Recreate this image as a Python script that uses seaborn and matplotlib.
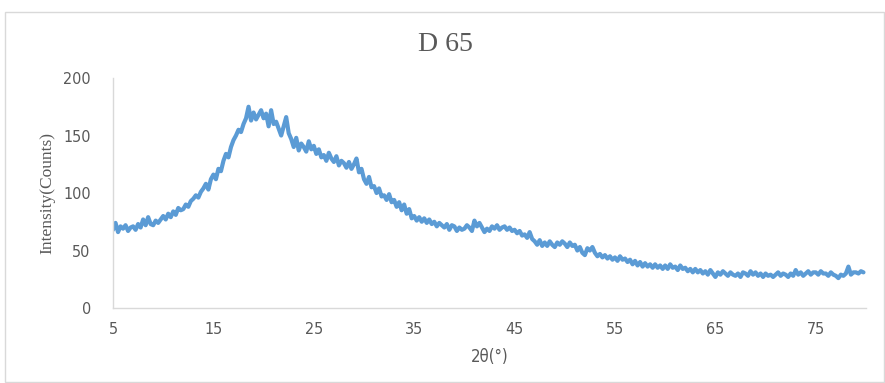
import numpy as np
import pandas as pd
import matplotlib
matplotlib.use("Agg")
import matplotlib.pyplot as plt
import seaborn as sns

# 2theta from 5 to 79.75 in steps of 0.25
two_theta = np.arange(5, 80, 0.25)
intensity = [
    68, 74, 66, 71, 69, 72, 67, 70, 71, 68, 73, 70, 77, 72, 79, 73,   # 5-8
    72, 76, 74, 77, 80, 77, 82, 79, 84, 81, 87, 85, 86, 90, 88, 93,   # 9-12
    95, 98, 96, 101, 104, 108, 103, 112, 116, 112, 121, 119,          # 13-15
    128, 134, 131, 140, 146, 150, 155, 153, 160, 165, 175, 163,       # 16-18
    170, 164, 168, 172, 165, 169, 158, 172, 160, 162, 156, 150,       # 19-21
    158, 166, 152, 147, 140, 148, 137, 143, 140, 136, 145, 138,       # 22-24
    141, 134, 138, 131, 133, 128, 135, 130, 127, 132, 124, 128,       # 25-27
    126, 122, 127, 121, 125, 130, 118, 121, 112, 108, 114, 105,       # 28-30
    106, 100, 104, 97, 98, 94, 99, 92, 94, 88, 92, 85,                # 31-33
    90, 82, 86, 78, 80, 76, 79, 75, 78, 74, 77, 73,                   # 34-36
    75, 71, 74, 72, 70, 73, 68, 72, 71, 67, 70, 68,                   # 37-39
    69, 72, 70, 67, 76, 71, 74, 70, 66, 69, 67, 71,                   # 40-42
    69, 72, 68, 70, 71, 68, 70, 67, 68, 65, 67, 63,                   # 43-45
    64, 61, 66, 60, 58, 55, 59, 54, 57, 54, 58, 55,                   # 46-48
    53, 57, 55, 58, 56, 53, 57, 54, 55, 50, 53, 48,                   # 49-51
    46, 52, 50, 53, 48, 45, 47, 44, 46, 43, 45, 42,                   # 52-54
    44, 41, 45, 42, 43, 40, 42, 38, 41, 37, 40, 36,                   # 55-57
    39, 36, 38, 35, 38, 35, 37, 34, 37, 34, 38, 35,                   # 58-60
    36, 33, 37, 34, 35, 32, 34, 31, 34, 31, 33, 30,                   # 61-63
    32, 29, 33, 30, 27, 31, 29, 32, 30, 28, 31, 29,                   # 64-66
    28, 30, 27, 31, 30, 28, 32, 29, 31, 28, 30, 27,                   # 67-69
    30, 28, 29, 27, 29, 31, 28, 30, 29, 27, 30, 28,                   # 70-72
    33, 29, 31, 28, 30, 32, 29, 31, 31, 29, 32, 30,                   # 73-75
    30, 28, 31, 29, 28, 26, 29, 28, 30, 36, 29, 31,                   # 76-78
    31, 30, 32, 31,                                                   # 79
]
x_ticks = [5, 15, 25, 35, 45, 55, 65, 75]
y_ticks = [0, 50, 100, 150, 200]

df = pd.DataFrame({"two_theta": two_theta, "intensity": intensity})

sns.set_style("white")
plt.rcParams["font.family"] = ["DejaVu Sans"]
plt.rcParams["font.stretch"] = "condensed"

fig = plt.figure(figsize=(8.85, 3.83), dpi=100)
ax = fig.add_axes([0.1277, 0.1958, 0.8508, 0.6005])

sns.lineplot(data=df, x="two_theta", y="intensity", ax=ax,
             color="#5B9BD5", linewidth=3.0)

ax.set_xlim(5, 80)
ax.set_ylim(0, 200)
ax.set_xticks(x_ticks)
ax.set_yticks(y_ticks)
ax.tick_params(length=0, labelsize=11.5, labelcolor="#595959")
ax.tick_params(axis="y", pad=16)
ax.tick_params(axis="x", pad=10)
for s in ["top", "right"]:
    ax.spines[s].set_visible(False)
for s in ["left", "bottom"]:
    ax.spines[s].set_color("#D9D9D9")
    ax.spines[s].set_linewidth(1.0)

ax.set_xlabel("2θ(°)", fontsize=12, color="#595959", labelpad=8)
ax.set_ylabel("Intensity(Counts)", fontsize=12.5, color="#595959",
              family="Liberation Serif", stretch="normal", labelpad=6)

fig.text(0.503, 0.885, "D 65", ha="center", va="center", fontsize=20,
         color="#595959", family="Liberation Serif", stretch="normal")

# chart area border
fig.patches.append(plt.Rectangle((0.006, 0.003), 0.993, 0.966,
                                 transform=fig.transFigure, fill=False,
                                 edgecolor="#D9D9D9", linewidth=1.0))

fig.savefig("out.png", dpi=100)
